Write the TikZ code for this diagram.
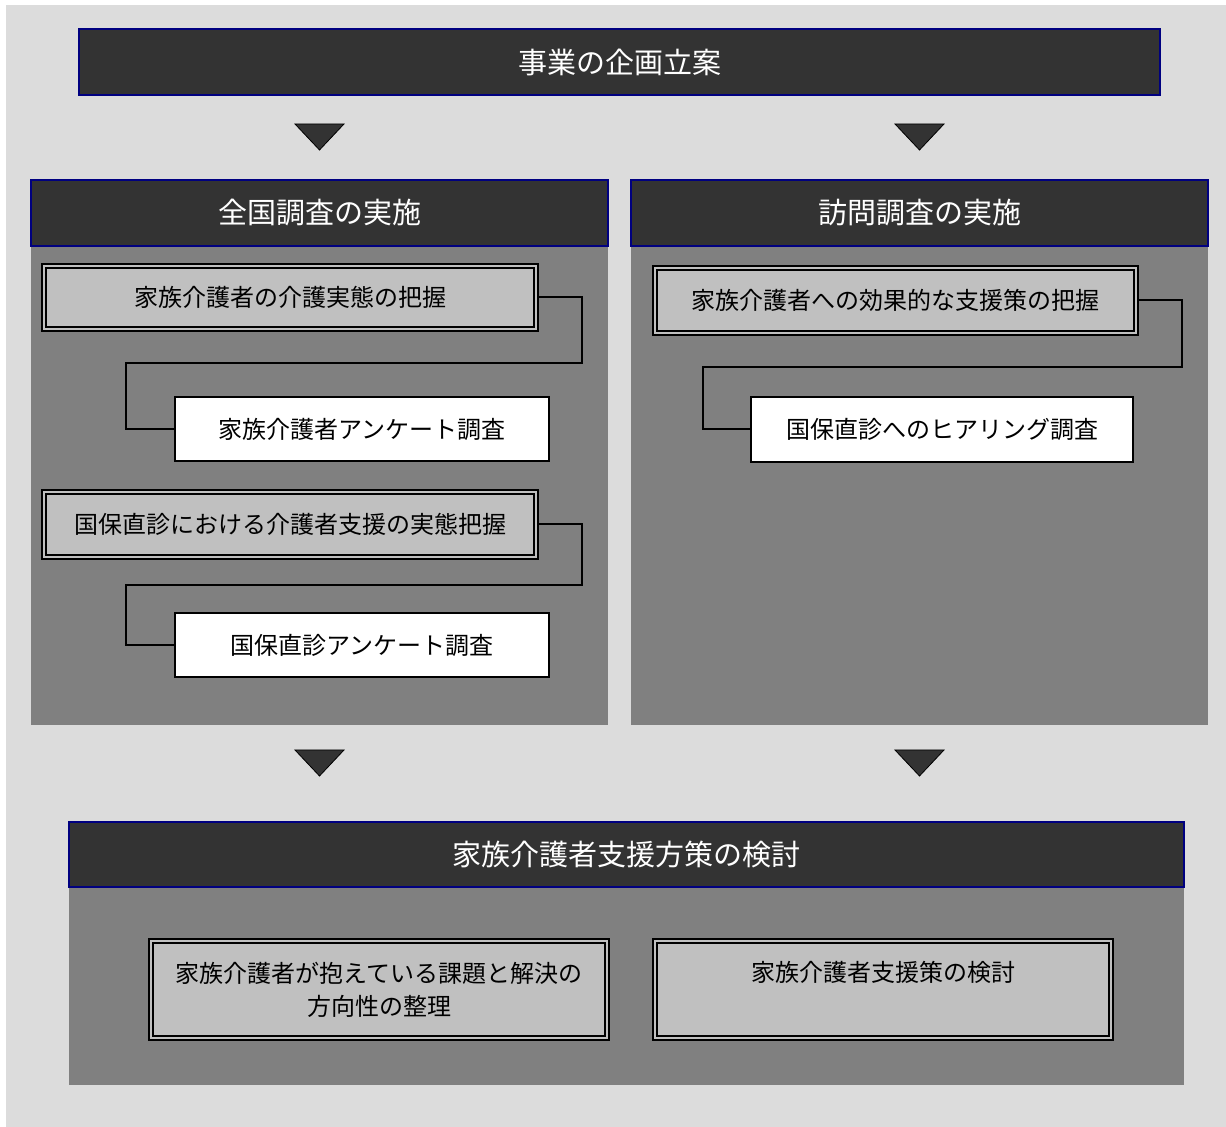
\documentclass[tikz,border=0pt]{standalone}
\usepackage{fontspec}
\setmainfont{Noto Sans CJK JP}
\usepackage{tikz}
\usetikzlibrary{positioning}
\usepackage{xcolor}
\definecolor{PaleGray}{RGB}{220,220,220}
\definecolor{MidGray}{RGB}{128,128,128}
\definecolor{Charcoal}{RGB}{51,51,51}
\definecolor{SilverGray}{RGB}{192,192,192}
\definecolor{NavyLine}{RGB}{0,0,128}

\begin{document}
\begin{tikzpicture}[x=0.5pt, y=-0.5pt,
          head/.style={rectangle, draw=NavyLine, line width=0.8pt, fill=Charcoal, text=white, minimum height=33pt, inner sep=0pt, outer sep=0pt, font=\fontsize{14.5pt}{17pt}\selectfont},
          panel/.style={rectangle, fill=MidGray, inner sep=0pt, outer sep=0pt},
          dblbox/.style={rectangle, draw=black, line width=1.1pt, double=SilverGray, double distance=1pt, fill=SilverGray, inner sep=0pt, align=center, font=\fontsize{12pt}{16.5pt}\selectfont},
          plainbox/.style={rectangle, draw=black, line width=1pt, fill=white, minimum height=32pt, inner sep=0pt, font=\fontsize{12pt}{15pt}\selectfont},
          link/.style={black, line width=1pt},
          tri/.style={fill=Charcoal, draw=black, line width=0.4pt}
        ]
          \useasboundingbox (0,0) rectangle (1226,1127);
          \fill[PaleGray] (6,5) rectangle (1226,1127);

          \node (plan) [head, minimum width=540.5pt] at (619.5,62) {事業の企画立案};

          % two survey columns
          \node (leftbody) [panel, minimum width=288.5pt, minimum height=239.5pt] at (319.5,485.5) {};
          \node (lefthead) [head, minimum width=288.5pt, above=0pt of leftbody] {全国調査の実施};
          \node (rightbody) [panel, minimum width=288.5pt, minimum height=239.5pt] at (919.5,485.5) {};
          \node (righthead) [head, minimum width=288.5pt, above=0pt of rightbody] {訪問調査の実施};

          \node (famgrasp) [dblbox, minimum width=246pt, minimum height=31.5pt] at (290,297.5) {家族介護者の介護実態の把握};
          \node (famsurvey) [plainbox, minimum width=187pt] at (362,429) {家族介護者アンケート調査};
          \node (clinicgrasp) [dblbox, minimum width=246pt, minimum height=32.5pt] at (290,524.5) {国保直診における介護者支援の実態把握};
          \node (clinicsurvey) [plainbox, minimum width=187pt] at (362,645.5) {国保直診アンケート調査};

          \node (supportgrasp) [dblbox, minimum width=240.5pt, minimum height=32.5pt] at (895.5,300.5) {家族介護者への効果的な支援策の把握};
          \node (hearing) [plainbox, minimum width=191pt, minimum height=32.5pt] at (942,429.5) {国保直診へのヒアリング調査};

          \draw [link] (famgrasp.east) -- ++(45,0) -- ++(0,65.5) -| ([xshift=-24pt]famsurvey.west) -- (famsurvey.west);
          \draw [link] (clinicgrasp.east) -- ++(45,0) -- ++(0,61) -| ([xshift=-24pt]clinicsurvey.west) -- (clinicsurvey.west);
          \draw [link] (supportgrasp.east) -- ++(45,0) -- ++(0,66.5) -| ([xshift=-23.5pt]hearing.west) -- (hearing.west);

          % study of measures
          \node (studybody) [panel, minimum width=557.5pt, minimum height=99pt] at (626.5,986) {};
          \node (studyhead) [head, minimum width=557.5pt, minimum height=32.5pt, above=0pt of studybody] {家族介護者支援方策の検討};
          \node (issues) [dblbox, minimum width=228pt, minimum height=48.5pt] at (379,989.5) {家族介護者が抱えている課題と解決の\\方向性の整理};
          \node (measures) [dblbox, minimum width=228pt, minimum height=48.5pt, text depth=18pt] at (883,989.5) {家族介護者支援策の検討};

          \foreach \x in {319.5, 919.5} {
            \foreach \y in {124, 750} {
              \draw [tri] (\x-24.5,\y) -- (\x+24.5,\y) -- (\x,\y+26) -- cycle;
            }
          }
        \end{tikzpicture}
\end{document}
